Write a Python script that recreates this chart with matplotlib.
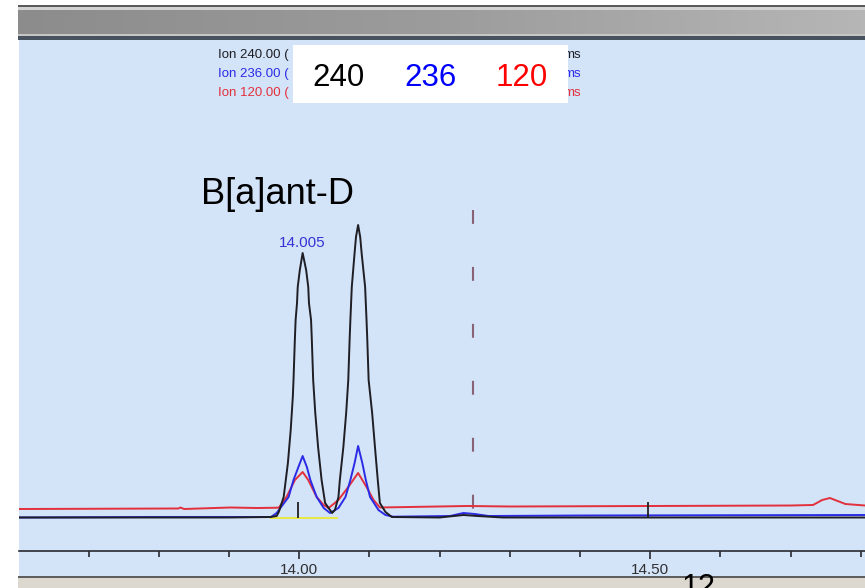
#chromatogram screenshot, B[a]ant-D peaks
import numpy as np
import matplotlib
matplotlib.use("Agg")
import matplotlib.pyplot as plt
from matplotlib.patches import Rectangle
from matplotlib.ticker import MultipleLocator, FormatStrFormatter
from matplotlib.colors import LinearSegmentedColormap

plt.rcParams['font.family'] = ['Liberation Sans', 'DejaVu Sans']
plt.rcParams['lines.scale_dashes'] = False

W, H = 865, 588  # figure size in px

# ---- data (time in min, abundance) ----
t_240 = [13.601, 13.800, 13.900, 13.959, 13.968, 13.971, 13.978, 13.984, 13.988, 13.991,
         13.992, 13.994, 13.995, 13.997, 13.998, 14.001, 14.005, 14.010, 14.013, 14.014,
         14.017, 14.018, 14.020, 14.023, 14.027, 14.032, 14.037, 14.047, 14.051, 14.056,
         14.058, 14.063, 14.067, 14.070, 14.072, 14.073, 14.075, 14.079, 14.081, 14.084,
         14.087, 14.089, 14.094, 14.096, 14.097, 14.099, 14.104, 14.108, 14.112, 14.115,
         14.123, 14.132, 14.200, 14.234, 14.254, 14.290, 14.500, 14.806]
y_240 = [33.5, 33.5, 33.5, 34, 35, 39, 54, 88, 121, 154,
         171, 213, 231, 248, 264, 281, 298, 281, 264, 248,
         231, 213, 171, 138, 104, 71, 48, 38, 41, 54,
         71, 104, 138, 171, 213, 231, 264, 298, 314, 326,
         314, 298, 264, 231, 213, 171, 138, 104, 71, 48,
         39, 34, 33.5, 36, 35, 33.5, 33.5, 33.5]

t_236 = [13.601, 13.788, 13.960, 13.968, 13.985, 13.992, 13.999, 14.005, 14.011, 14.016,
         14.025, 14.035, 14.044, 14.056, 14.066, 14.073, 14.079, 14.084, 14.090, 14.095,
         14.101, 14.113, 14.123, 14.134, 14.215, 14.234, 14.250, 14.270, 14.400, 14.806]
y_236 = [33.5, 34, 34, 38, 54, 71, 84, 95, 84, 71,
         54, 43, 38, 43, 54, 71, 88, 105, 88, 71,
         54, 41, 36, 34.3, 35, 38, 37, 35, 35.5, 36]

t_120 = [13.601, 13.828, 13.831, 13.836, 13.880, 13.902, 13.940, 13.971, 13.982, 13.994,
         14.005, 14.013, 14.025, 14.035, 14.042, 14.056, 14.070, 14.084, 14.096, 14.106,
         14.115, 14.240, 14.300, 14.500, 14.700, 14.732, 14.745, 14.756, 14.767, 14.778,
         14.806]
y_120 = [42, 42.5, 43.5, 42, 43, 43.5, 43, 43.3, 54, 71,
         79, 71, 54, 46, 43, 51, 64, 78, 64, 51,
         43.5, 45, 44.5, 45, 45.5, 46, 51, 53, 50, 47,
         45.5]

ions = ['240', '236', '120']
ion_labels = ['Ion 240.00 (', 'Ion 236.00 (', 'Ion 120.00 (']
colors = ['#1e1e24', '#2b2be6', '#e2303c']

peak_rt = 14.005
peak_height = 298
compound = 'B[a]ant-D'
baseline_t = [13.960, 14.054]   # yellow integration baseline
baseline_y = 32.8
event_marks = [13.999, 14.497]  # short black markers
dashed_rt = 14.248

fig = plt.figure(figsize=(W / 100, H / 100), dpi=100)
fig.patch.set_facecolor('white')

ax = fig.add_axes([19 / W, 12 / H, 846 / W, 536 / H])
ax.set_facecolor('#d3e3f8')
ax.set_xlim(13.601, 14.806)
ax.set_ylim(-25, 511)

ax.plot(baseline_t, [baseline_y, baseline_y], color='#e8e840', lw=1.4, zorder=2)
ax.plot(t_120, y_120, color=colors[2], lw=1.4, zorder=3)
ax.plot(t_236, y_236, color=colors[1], lw=1.4, zorder=4)
ax.plot(t_240, y_240, color=colors[0], lw=1.4, zorder=5)
ax.vlines(event_marks, 33, 49, color='#202020', lw=1.3, zorder=6)
ax.plot([dashed_rt, dashed_rt], [341, 42], color='#8a6276', lw=1.5,
        dashes=(10, 31), zorder=2)

ax.text(peak_rt, peak_height + 10, '%.3f' % peak_rt, color='#3434d6',
        fontsize=11, ha='center', va='center')
ax.text(13.969, 347, compound, fontsize=26, ha='center', va='baseline', color='black')

# axis like the instrument software
for s in ['top', 'left', 'right']:
    ax.spines[s].set_visible(False)
ax.spines['bottom'].set_position(('data', 0))
ax.spines['bottom'].set_color('#2a2a30')
ax.spines['bottom'].set_linewidth(1.2)
ax.set_yticks([])
ax.xaxis.set_major_locator(MultipleLocator(0.5))
ax.xaxis.set_minor_locator(MultipleLocator(0.1))
ax.xaxis.set_major_formatter(FormatStrFormatter('%.2f'))
ax.tick_params(axis='x', which='major', length=6, width=1.2, color='#2a2a30',
               pad=3, labelsize=11, labelcolor='#303030')
ax.tick_params(axis='x', which='minor', length=4, width=1.2, color='#2a2a30')


def px_rect(x, y, w, h, color, z=10):
    fig.add_artist(Rectangle((x / W, 1 - (y + h) / H), w / W, h / H,
                             transform=fig.transFigure, color=color, lw=0, zorder=z))


# window frame bits
px_rect(18, 5, 847, 2, '#5a5a5a')
px_rect(18, 7, 847, 3, '#d2d2d2')
gax = fig.add_axes([18 / W, 1 - 34 / H, 847 / W, 24 / H])
gax.imshow(np.linspace(0, 1, 256)[None, :], aspect='auto',
           cmap=LinearSegmentedColormap.from_list('bar', ['#8c8c8c', '#9c9c9c', '#b6b6b6']))
gax.axis('off')
px_rect(18, 34, 847, 2, '#c6c6c6')
px_rect(18, 36, 847, 4, '#48525e')
px_rect(18, 576, 847, 2, '#5e5e5e')
px_rect(18, 578, 847, 10, '#dcd8d0')

# ion legend, partly covered by a white box
for i in range(3):
    yy = 1 - (55 + 19 * i) / H
    fig.text(218 / W, yy, ion_labels[i], color=colors[i], fontsize=9.5, va='center', zorder=11)
    fig.text(563 / W, yy, 'ms', color=colors[i], fontsize=9.5, va='center', zorder=11)
px_rect(293, 45, 275, 58, 'white', z=12)
for i, xc in enumerate([338, 430, 522]):
    fig.text(xc / W, 1 - 86 / H, ions[i], color=['black', '#0000ff', '#ff0000'][i],
             fontsize=22.5, ha='center', va='baseline', zorder=13)

fig.text(699 / W, 1 - 573 / H, '12', fontsize=22, ha='center', va='top', zorder=13)

fig.savefig('out.png', dpi=100)
